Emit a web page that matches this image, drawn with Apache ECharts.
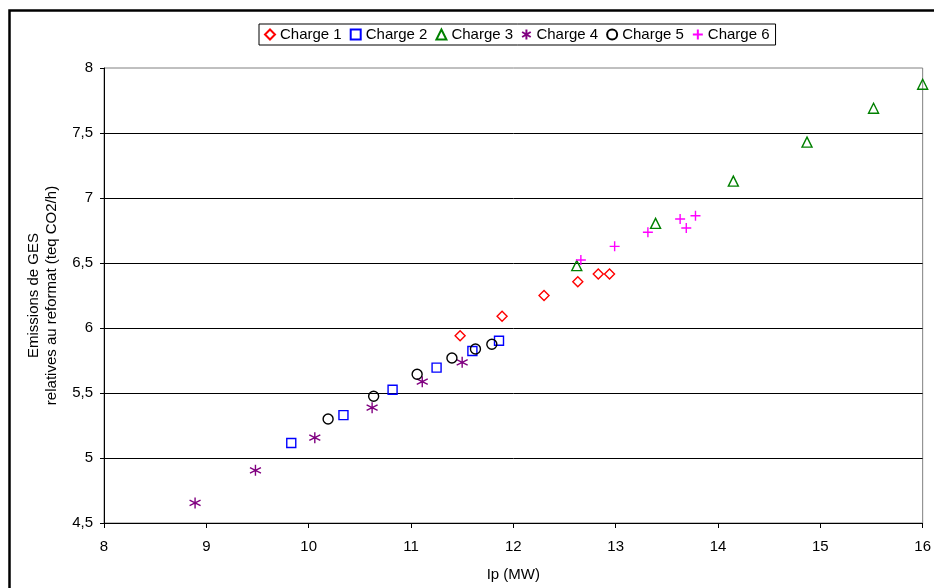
<!DOCTYPE html>
<html>
<head>
<meta charset="utf-8">
<script src="https://cdn.jsdelivr.net/npm/echarts@6/dist/echarts.min.js"></script>
<style>
html,body{margin:0;padding:0;background:#fff;}
#c{width:934px;height:588px;}
</style>
</head>
<body>
<div id="c"></div>
<script>
// Data: [Ip (MW), emissions (teq CO2/h)]
var charge1 = [[11.48,5.94],[11.89,6.09],[12.30,6.25],[12.63,6.355],[12.83,6.415],[12.94,6.415]];
var charge2 = [[9.83,5.115],[10.34,5.33],[10.82,5.525],[11.25,5.695],[11.60,5.823],[11.86,5.902]];
var charge3 = [[12.62,6.48],[13.39,6.805],[14.15,7.13],[14.87,7.43],[15.52,7.69],[16.0,7.875]];
var charge4 = [[8.89,4.654],[9.48,4.905],[10.06,5.156],[10.62,5.387],[11.11,5.587],[11.50,5.736]];
var charge5 = [[10.19,5.30],[10.635,5.475],[11.06,5.644],[11.40,5.769],[11.63,5.838],[11.79,5.875]];
var charge6 = [[12.66,6.523],[12.99,6.628],[13.315,6.736],[13.63,6.838],[13.69,6.769],[13.78,6.864]];

var seriesNames = ['Charge 1','Charge 2','Charge 3','Charge 4','Charge 5','Charge 6'];
var seriesData = [charge1, charge2, charge3, charge4, charge5, charge6];
var seriesColors = ['#ff0000','#0000ff','#008000','#800080','#000000','#ff00ff'];
var seriesSymbols = ['diamond','rect','triangle',
  'path://M5,0L5,10M0.7,2.5L9.3,7.5M0.7,7.5L9.3,2.5',
  'circle',
  'path://M0,5L10,5M5,0L5,10'];
var seriesSizes = [10, 9, 10, 11, 10, 10];

var xMin = 8, xMax = 16, xStep = 1;
var yMin = 4.5, yMax = 8, yStep = 0.5;

var FONT = 'Liberation Sans, Arial, sans-serif';

var chart = echarts.init(document.getElementById('c'), null, {renderer:'canvas'});

var series = seriesNames.map(function(n, i){
  return {
    name: n,
    type: 'scatter',
    data: seriesData[i],
    symbol: seriesSymbols[i],
    symbolSize: seriesSizes[i],
    itemStyle: {color: 'rgba(0,0,0,0)', borderColor: seriesColors[i], borderWidth: 1.4, opacity: 1},
    emphasis: {disabled: true},
    z: 5
  };
});

chart.setOption({
  animation: false,
  backgroundColor: '#fff',
  textStyle: {fontFamily: FONT},
  graphic: [{
    type: 'rect',
    shape: {x: 9.5, y: 10.5, width: 1000, height: 1000},
    style: {fill: 'none', stroke: '#000', lineWidth: 2.5},
    z: 0, silent: true
  }],
  legend: {
    data: seriesNames,
    left: 259, top: 24,
    orient: 'horizontal',
    padding: [3, 6, 3, 5],
    borderColor: '#000', borderWidth: 1,
    itemWidth: 10, itemHeight: 10, itemGap: 8,
    textStyle: {fontFamily: FONT, fontSize: 15, color: '#000'},
    selectedMode: false
  },
  grid: {
    left: 104, right: 9, top: 68, bottom: 65,
    show: true, borderColor: '#808080', borderWidth: 1
  },
  xAxis: {
    type: 'value', min: xMin, max: xMax, interval: xStep,
    name: 'Ip (MW)', nameLocation: 'middle', nameGap: 44,
    nameTextStyle: {fontFamily: FONT, fontSize: 15, color: '#000'},
    axisLine: {show: true, onZero: false, lineStyle: {color: '#000', width: 1}},
    axisTick: {show: true, inside: false, length: 5, lineStyle: {color: '#000'}},
    axisLabel: {fontFamily: FONT, fontSize: 15, color: '#000', margin: 16},
    splitLine: {show: false}
  },
  yAxis: {
    type: 'value', min: yMin, max: yMax, interval: yStep,
    name: 'Emissions de GES\nrelatives au reformat (teq CO2/h)',
    nameLocation: 'middle', nameGap: 34, nameRotate: 90,
    nameTextStyle: {fontFamily: FONT, fontSize: 15, color: '#000', lineHeight: 18, align: 'center'},
    axisLine: {show: true, onZero: false, lineStyle: {color: '#000', width: 1}},
    axisTick: {show: true, inside: false, length: 4, lineStyle: {color: '#000'}},
    axisLabel: {fontFamily: FONT, fontSize: 15, color: '#000', margin: 11,
      formatter: function(v){ return String(v).replace('.', ','); }},
    splitLine: {show: true, showMaxLine: false, showMinLine: false, lineStyle: {color: '#000', width: 1}}
  },
  series: series
});
</script>
</body>
</html>
